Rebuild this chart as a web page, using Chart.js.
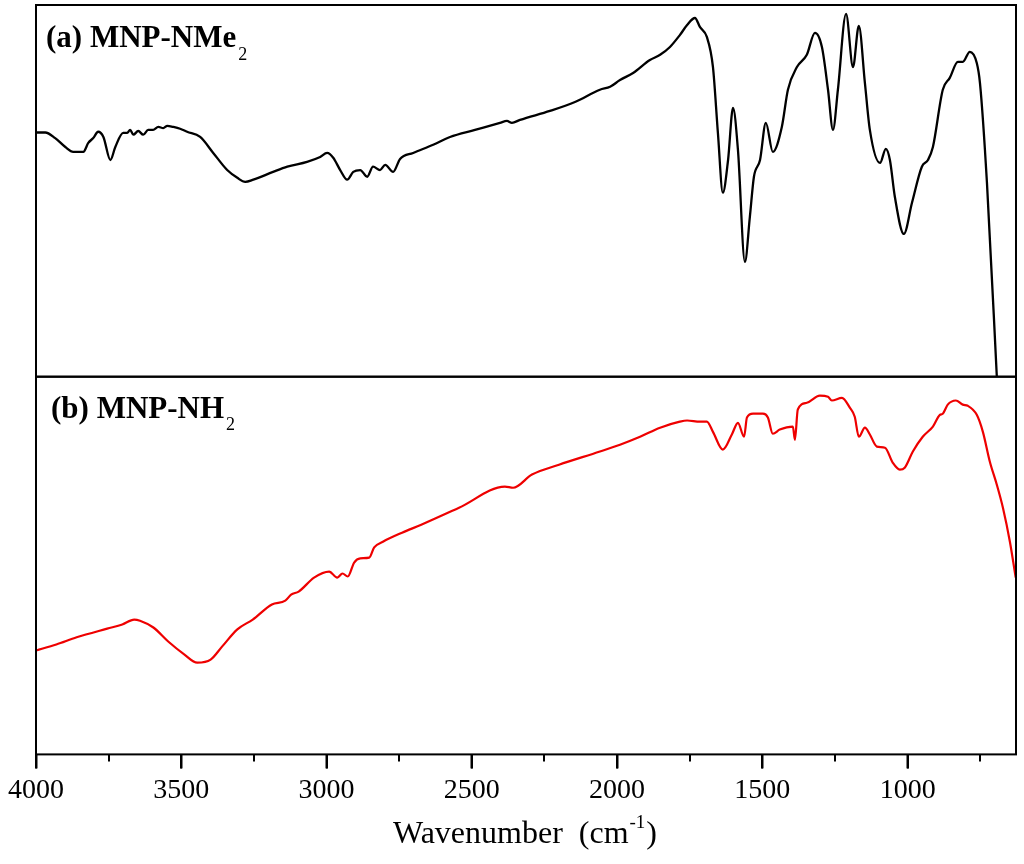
<!DOCTYPE html>
<html>
<head>
<meta charset="utf-8">
<script src="https://cdn.jsdelivr.net/npm/chart.js@4.4.1/dist/chart.umd.min.js"></script>
<style>
  html, body { margin: 0; padding: 0; background: #fff; }
  #wrap { width: 1024px; height: 864px; }
</style>
</head>
<body>
<div id="wrap"><canvas id="c" width="1024" height="864"></canvas></div>
<script>
// ---- Data (wavenumber in cm^-1, transmittance in arbitrary units 0-100 per panel) ----
const nme2Wavenumber = [4000,3968,3934,3899,3872,3837,3820,3803,3786,3768,3744,3727,3700,3686,3676,3665,3648,3631,3614,3597,3579,3562,3548,3528,3504,3480,3435,3390,3342,3307,3280,3252,3184,3135,3067,3022,2998,2977,2953,2929,2908,2884,2860,2840,2816,2798,2771,2747,2702,2633,2575,2489,2403,2379,2362,2334,2231,2145,2059,2024,1990,1945,1887,1852,1818,1784,1759,1732,1715,1691,1670,1653,1636,1618,1601,1584,1560,1543,1529,1508,1488,1464,1433,1412,1381,1347,1319,1295,1274,1257,1240,1212,1188,1168,1147,1130,1095,1075,1061,1044,1013,985,951,930,913,879,855,827,810,786,762,751,727,693,683];
const nme2Transmittance = [65.7,65.7,64.2,61.8,60.5,60.5,62.9,64.2,65.9,64.5,58.3,61.8,65.6,65.6,66.4,65.1,66.1,65.1,66.4,66.4,67.2,66.9,67.5,67.2,66.7,65.9,64.5,60.2,55.6,53.5,52.4,53.0,55.1,56.5,57.8,59.1,60.2,58.9,55.6,53.0,55.1,55.6,53.8,56.5,55.6,57.0,55.1,58.6,60.2,62.4,64.5,66.4,68.3,68.8,68.3,69.1,71.5,73.9,77.2,78.0,79.8,81.7,85.2,86.6,88.7,91.9,94.6,96.5,94.1,91.4,83.3,65.6,49.5,58.3,72.3,61.0,30.9,43.0,53.8,58.3,68.3,60.5,67.2,77.2,83.3,86.6,92.5,88.7,77.2,66.4,77.2,97.6,83.3,94.4,79.0,66.4,57.5,61.3,58.3,48.4,38.4,46.8,56.5,58.3,61.8,77.2,80.4,84.7,84.7,87.4,84.4,79.0,52.2,0,-15.6];

const nh2Wavenumber = [4000,3930,3860,3755,3703,3662,3642,3596,3545,3490,3445,3399,3359,3307,3254,3188,3142,3122,3096,3043,2991,2963,2945,2927,2905,2884,2853,2836,2806,2740,2674,2544,2386,2358,2293,2200,2059,1990,1921,1852,1784,1759,1715,1691,1670,1636,1605,1584,1563,1553,1532,1498,1481,1464,1440,1395,1388,1378,1347,1302,1274,1261,1226,1199,1182,1168,1147,1130,1106,1078,1051,1027,1010,982,948,913,889,879,862,834,810,793,762,741,717,693,672,648,628];
const nh2Transmittance = [27.5,29.1,31.0,33.3,34.4,35.7,35.4,33.6,29.9,26.5,24.3,25.1,28.6,33.1,35.7,39.7,40.7,42.3,43.1,46.8,48.4,46.8,47.9,47.1,50.8,51.9,52.1,54.8,56.3,58.7,60.8,65.3,70.9,70.6,74.1,76.7,80.2,82.0,84.1,86.5,88.1,88.4,88.1,88.1,85.4,80.7,84.7,87.8,84.1,89.2,90.2,90.2,89.2,84.9,86.0,86.8,83.3,91.3,93.1,95.0,94.7,93.7,94.4,91.8,89.4,84.1,86.5,84.7,81.5,81.2,77.2,75.4,75.9,80.2,84.1,86.8,89.9,90.2,92.6,93.7,92.6,92.3,89.9,85.4,77.5,71.4,65.3,56.3,46.8];

const majorTicks = [4000,3500,3000,2500,2000,1500,1000];
const minorTicks = [3750,3250,2750,2250,1750,1250,750];
const panelLabels = [
  { axis: 'yA', text: '(a) MNP-NMe', sub: '2', dx: 10, dy: 42, subDy: 13 },
  { axis: 'yB', text: '(b) MNP-NH', sub: '2', dx: 15, dy: 41, subDy: 12 }
];
const xTitleMain = 'Wavenumber  (cm';
const xTitleSup = '-1';
const xTitleEnd = ')';

const SERIF = '"Liberation Serif", "Times New Roman", serif';

// ---- Plugins ----
const clipPanels = {
  id: 'clipPanels',
  beforeDatasetDraw(chart, args) {
    const ys = args.meta.yScale, xs = chart.scales.x;
    const ctx = chart.ctx;
    ctx.save();
    ctx.beginPath();
    ctx.rect(xs.left, ys.top, xs.right - xs.left, ys.bottom - ys.top);
    ctx.clip();
  },
  afterDatasetDraw(chart) { chart.ctx.restore(); }
};

const framePlugin = {
  id: 'framePlugin',
  afterDraw(chart) {
    const ctx = chart.ctx, xs = chart.scales.x;
    ctx.save();
    ctx.strokeStyle = '#000';
    ctx.lineWidth = 2;
    ['yA', 'yB'].forEach(id => {
      const ys = chart.scales[id];
      ctx.strokeRect(xs.left, ys.top, xs.right - xs.left, ys.bottom - ys.top);
    });
    // major and minor ticks
    const yb = chart.scales.yB.bottom;
    ctx.beginPath();
    majorTicks.forEach(v => {
      const px = Math.round(xs.getPixelForValue(v));
      ctx.moveTo(px, yb);
      ctx.lineTo(px, yb + 14);
    });
    minorTicks.forEach(v => {
      const px = Math.round(xs.getPixelForValue(v));
      ctx.moveTo(px, yb);
      ctx.lineTo(px, yb + 7);
    });
    ctx.stroke();
    // panel labels
    ctx.fillStyle = '#000';
    ctx.textBaseline = 'alphabetic';
    ctx.textAlign = 'left';
    panelLabels.forEach(p => {
      const ys = chart.scales[p.axis];
      const x0 = xs.left + p.dx, y0 = ys.top + p.dy;
      ctx.font = 'bold 31px ' + SERIF;
      ctx.fillText(p.text, x0, y0);
      const w = ctx.measureText(p.text).width;
      ctx.font = '18px ' + SERIF;
      ctx.fillText(p.sub, x0 + w + 2, y0 + p.subDy);
    });
    // x axis title
    ctx.font = '32px ' + SERIF;
    const w1 = ctx.measureText(xTitleMain).width;
    ctx.font = '19px ' + SERIF;
    const w2 = ctx.measureText(xTitleSup).width;
    ctx.font = '32px ' + SERIF;
    const w3 = ctx.measureText(xTitleEnd).width;
    const total = w1 + w2 + w3 + 2;
    const cx = (xs.left + xs.right) / 2 - 1;
    let tx = cx - total / 2;
    const base = 843;
    ctx.fillText(xTitleMain, tx, base);
    tx += w1 + 1;
    ctx.font = '19px ' + SERIF;
    ctx.fillText(xTitleSup, tx, base - 15);
    tx += w2 + 1;
    ctx.font = '32px ' + SERIF;
    ctx.fillText(xTitleEnd, tx, base);
    ctx.restore();
  }
};

const toPoints = (xs, ys) => xs.map((x, i) => ({ x: x, y: ys[i] }));

new Chart(document.getElementById('c'), {
  type: 'line',
  data: {
    datasets: [
      {
        label: 'MNP-NMe2',
        data: toPoints(nme2Wavenumber, nme2Transmittance),
        yAxisID: 'yA',
        borderColor: '#000000',
        borderWidth: 2.3,
        pointRadius: 0,
        fill: false,
        cubicInterpolationMode: 'monotone'
      },
      {
        label: 'MNP-NH2',
        data: toPoints(nh2Wavenumber, nh2Transmittance),
        yAxisID: 'yB',
        borderColor: '#ee0000',
        borderWidth: 2.2,
        pointRadius: 0,
        fill: false,
        cubicInterpolationMode: 'monotone'
      }
    ]
  },
  options: {
    responsive: false,
    animation: false,
    devicePixelRatio: 1,
    layout: { padding: { left: 28, right: 8, top: 5, bottom: 52 } },
    plugins: { legend: { display: false }, tooltip: { enabled: false }, title: { display: false } },
    scales: {
      x: {
        type: 'linear',
        reverse: true,
        min: 627,
        max: 4000,
        afterBuildTicks(scale) { scale.ticks = majorTicks.map(v => ({ value: v })); },
        ticks: {
          color: '#000',
          padding: 5,
          maxRotation: 0,
          autoSkip: false,
          font: { family: SERIF, size: 28 },
          callback: v => String(v)
        },
        grid: {
          display: true,
          drawOnChartArea: false,
          drawTicks: true,
          tickLength: 14,
          tickWidth: 2,
          tickColor: '#000'
        },
        border: { display: false }
      },
      yB: {
        type: 'linear',
        position: 'left',
        stack: 'ir',
        stackWeight: 378,
        min: 0,
        max: 100,
        ticks: { display: false },
        grid: { display: false },
        border: { display: false }
      },
      yA: {
        type: 'linear',
        position: 'left',
        stack: 'ir',
        stackWeight: 372,
        min: 0,
        max: 100,
        ticks: { display: false },
        grid: { display: false },
        border: { display: false }
      }
    }
  },
  plugins: [clipPanels, framePlugin]
});
</script>
</body>
</html>
